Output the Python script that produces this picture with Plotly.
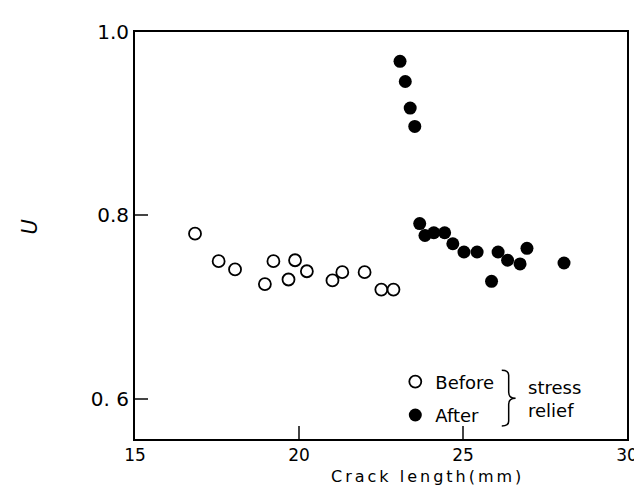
import plotly.graph_objects as go

# Data
before_x = [16.83, 17.55, 18.05, 18.96, 19.22, 19.68, 19.88, 20.24, 21.02, 21.32, 22.00, 22.51, 22.88]
before_u = [0.780, 0.750, 0.741, 0.725, 0.750, 0.730, 0.751, 0.739, 0.729, 0.738, 0.738, 0.719, 0.719]

after_x = [23.08, 23.24, 23.39, 23.53, 23.68, 23.84, 24.11, 24.44, 24.69, 25.03, 25.43,
           25.87, 26.07, 26.36, 26.74, 26.95, 28.08]
after_u = [0.968, 0.946, 0.917, 0.897, 0.791, 0.778, 0.781, 0.781, 0.769, 0.760, 0.760,
           0.728, 0.760, 0.751, 0.747, 0.764, 0.748]

x_ticks = [15, 20, 25, 30]
y_ticks = [0.6, 0.8, 1.0]
y_ticktext = ["0. 6", "0.8", "1.0"]

FONT = "DejaVu Sans"
W, H = 642, 489
L, R, T, B = 127, 16, 22, 58
pw, ph = W - L - R, H - T - B


def px(x, y):
    return (x - L) / pw, (H - B - y) / ph


fig = go.Figure()
fig.add_trace(go.Scatter(
    x=before_x, y=before_u, mode="markers", name="Before", legendgroup="b",
    marker=dict(symbol="circle-open", size=12, color="black", line=dict(width=1.8, color="black")),
))
fig.add_trace(go.Scatter(
    x=after_x, y=after_u, mode="markers", name="After", legendgroup="a",
    marker=dict(symbol="circle", size=13, color="black"),
))

# brace for legend
pts = [(499, 362), (506, 367), (506, 384), (513, 390), (506, 396), (506, 413), (499, 418)]
p = [px(a, b) for a, b in pts]
path = (f"M {p[0][0]},{p[0][1]} Q {p[1][0]},{p[0][1]} {p[1][0]},{p[1][1]} "
        f"L {p[2][0]},{p[2][1]} Q {p[2][0]},{p[3][1]} {p[3][0]},{p[3][1]} "
        f"Q {p[4][0]},{p[3][1]} {p[4][0]},{p[4][1]} "
        f"L {p[5][0]},{p[5][1]} Q {p[5][0]},{p[6][1]} {p[6][0]},{p[6][1]}")

fig.add_shape(type="path", path=path, xref="paper", yref="paper",
              line=dict(color="black", width=1.5))

sx, sy = px(524, 391)
fig.add_annotation(x=sx, y=sy, xref="paper", yref="paper", text="stress<br>relief",
                   showarrow=False, xanchor="left", yanchor="middle", align="left",
                   font=dict(family=FONT, size=18, color="black"))

tx, ty = px(424, 480)
fig.add_annotation(x=tx, y=ty, xref="paper", yref="paper",
                   text='<span style="letter-spacing:3px">Crack length(mm)</span>',
                   showarrow=False, xanchor="center", yanchor="bottom",
                   font=dict(family=FONT, size=16, color="black"))
ux, uy = px(21, 218)
fig.add_annotation(x=ux, y=uy, xref="paper", yref="paper", text="<i>U</i>",
                   showarrow=False, xanchor="center", yanchor="middle", textangle=-90,
                   font=dict(family=FONT, size=21, color="black"))

lx, ly = px(391, 355)
fig.update_layout(
    width=W, height=H,
    margin=dict(l=L, r=R, t=T, b=B),
    plot_bgcolor="white", paper_bgcolor="white",
    font=dict(family=FONT, size=19, color="black"),
    showlegend=True,
    legend=dict(x=lx, y=ly, xanchor="left", yanchor="top", bgcolor="rgba(0,0,0,0)",
                traceorder="grouped", tracegroupgap=7, itemwidth=30,
                font=dict(family=FONT, size=18, color="black")),
    xaxis=dict(range=[15, 30], tickvals=x_ticks, ticks="inside", ticklen=13, tickwidth=1.5,
               showgrid=False, zeroline=False, showline=True, linecolor="black", linewidth=2,
               mirror=True, tickfont=dict(size=17)),
    yaxis=dict(range=[0.556, 1.0], tickvals=y_ticks, ticktext=y_ticktext, ticks="inside",
               ticklen=13, tickwidth=1.5, showgrid=False, zeroline=False, showline=True,
               linecolor="black", linewidth=2, mirror=True, tickfont=dict(size=20)),
)

fig.write_html("out.html")
